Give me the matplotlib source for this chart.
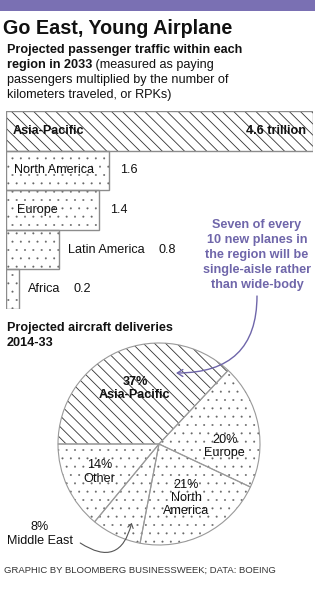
import numpy as np
import matplotlib
matplotlib.use("Agg")
import matplotlib.pyplot as plt
from matplotlib.patches import Rectangle

W, H = 315, 589

title = "Go East, Young Airplane"
sub_lines = [("Projected passenger traffic within each", ""),
             ("region in 2033", " (measured as paying"),
             ("", "passengers multiplied by the number of"),
             ("", "kilometers traveled, or RPKs)")]

regions = ["Asia-Pacific", "North America", "Europe", "Latin America", "Africa"]
rpk_trillions = [4.6, 1.55, 1.4, 0.8, 0.2]
rpk_labels = ["4.6 trillion", "1.6", "1.4", "0.8", "0.2"]

pie_heading = ["Projected aircraft deliveries", "2014-33"]
pie_regions = ["Asia-Pacific", "Europe", "North\nAmerica", "Middle East", "Other"]
deliveries_pct = [37, 20, 21, 8, 14]

note_lines = ["Seven of every", "10 new planes in", "the region will be",
              "single-aisle rather", "than wide-body"]
credit = "GRAPHIC BY BLOOMBERG BUSINESSWEEK; DATA: BOEING"

plt.rcParams['font.family'] = ['Liberation Sans', 'DejaVu Sans']
plt.rcParams['hatch.linewidth'] = 0.6

INK = '#111111'
PURPLE = '#6f66aa'
EDGE = '#8c8c8c'
FS = 9.1

fig = plt.figure(figsize=(W / 100, H / 100), dpi=100)
fig.patch.set_facecolor('white')


def put(px, py, s, **kw):
    kw.setdefault('color', INK)
    kw.setdefault('fontsize', FS)
    return fig.text(px / W, 1 - py / H, s, **kw)


def style_fill(patch, striped):
    # hatch colour follows the edge colour; the outline is drawn in a second pass
    if striped:
        patch.set_hatch('\\\\\\')
        patch.set_edgecolor('#333333')
    else:
        patch.set_hatch('..')
        patch.set_edgecolor('#666666')
        if hasattr(patch, 'set_hatch_linewidth'):
            patch.set_hatch_linewidth(0.2)


# purple band on top
fig.patches.append(Rectangle((0, 1 - 11 / H), 1, 11 / H, transform=fig.transFigure,
                             facecolor='#7a70b3', edgecolor='none'))

put(3, 33.5, title, fontsize=14.2, weight='bold', va='baseline')

# ---- bar chart ----
ax_bar = fig.add_axes([6 / W, 1 - 309 / H, 307 / W, 198 / H])
ax_bar.set_xlim(0, max(rpk_trillions))
ax_bar.set_ylim(len(regions) - 0.5, -0.5)
ax_bar.axis('off')

y = np.arange(len(regions))
fills = ax_bar.barh(y, rpk_trillions, height=1.0, color='white', linewidth=0)
for i, p in enumerate(fills):
    style_fill(p, i == 0)
ax_bar.barh(y, rpk_trillions, height=1.0, fill=False, edgecolor=EDGE, linewidth=1.0)

for i, (name, val, lab) in enumerate(zip(regions, rpk_trillions, rpk_labels)):
    if i == 0:
        ax_bar.annotate(name, (0, i), xytext=(7, 0), textcoords='offset pixels',
                        va='center', ha='left', fontsize=FS, weight='bold', color=INK)
        ax_bar.annotate(lab, (val, i), xytext=(-7, 0), textcoords='offset pixels',
                        va='center', ha='right', fontsize=FS, weight='bold', color=INK)
    elif val >= 1.0:
        ax_bar.annotate(name, (0, i), xytext=(8 if i == 1 else 11, 0), textcoords='offset pixels',
                        va='center', ha='left', fontsize=FS, color=INK)
        ax_bar.annotate(lab, (val, i), xytext=(11, 0), textcoords='offset pixels',
                        va='center', ha='left', fontsize=FS, color=INK)
    else:
        t = ax_bar.annotate(name, (val, i), xytext=(9, 0), textcoords='offset pixels',
                            va='center', ha='left', fontsize=FS, color=INK)
        ax_bar.annotate(lab, xy=(1, 0.5), xycoords=t, xytext=(13, 0),
                        textcoords='offset pixels', va='center', ha='left',
                        fontsize=FS, color=INK)

# subtitle with mixed weights
for k, (bold, rest) in enumerate(sub_lines):
    yb = 53.5 + 14.8 * k
    if bold:
        t = put(7, yb, bold, weight='bold', va='baseline')
        if rest:
            ax_bar.annotate(rest, xy=(1, 0), xycoords=t, xytext=(0, 0),
                            textcoords='offset pixels', va='bottom', ha='left',
                            fontsize=FS, color=INK, annotation_clip=False)
    else:
        put(7, yb, rest, va='baseline')

# ---- pie ----
R = 101
cx, cy = 159, 444
side = 2.2 * R
ax_pie = fig.add_axes([(cx - side / 2) / W, 1 - (cy + side / 2) / H, side / W, side / H])
wedges, _ = ax_pie.pie(deliveries_pct, startangle=180, counterclock=False,
                       wedgeprops=dict(facecolor='white', linewidth=0))
for i, w in enumerate(wedges):
    style_fill(w, i == 0)
ax_pie.pie(deliveries_pct, startangle=180, counterclock=False,
           wedgeprops=dict(fill=False, edgecolor='#999999', linewidth=0.8))
ax_pie.set_xlim(-1.1, 1.1)
ax_pie.set_ylim(-1.1, 1.1)
ax_pie.set_aspect('equal')
ax_pie.axis('off')

nudge = {1: -13}
for i, (w, name, pct) in enumerate(zip(wedges, pie_regions, deliveries_pct)):
    if name == "Middle East":
        continue
    mid = np.deg2rad((w.theta1 + w.theta2) / 2 + nudge.get(i, 0))
    r = 0.6 if i in (0, 2) else 0.65
    ax_pie.text(r * np.cos(mid), r * np.sin(mid), f"{pct}%\n{name}", ha='center', va='center',
                fontsize=FS, weight='bold' if i == 0 else 'normal', color=INK,
                linespacing=1.15)

me = pie_regions.index("Middle East")
ax_pie.text(-1.18, -0.89, f"{deliveries_pct[me]}%\nMiddle East", ha='center', va='center',
            fontsize=FS, color=INK, linespacing=1.15)
ax_pie.annotate('', xy=(-0.27, -0.78), xytext=(-0.78, -0.98),
                arrowprops=dict(arrowstyle='->,head_length=0.3,head_width=0.2', color='#555555',
                                lw=0.8, shrinkA=0, shrinkB=0,
                                connectionstyle='arc3,rad=0.7'),
                annotation_clip=False)

# purple note + arrow
for k, line in enumerate(note_lines):
    put(257, 225 + 15 * k, line, ha='center', va='center', weight='bold', color=PURPLE)
ax_pie.annotate('', xy=((176 - cx) / R, (cy - 373) / R), xycoords='data',
                xytext=(257 / W, 1 - 296 / H), textcoords='figure fraction',
                arrowprops=dict(arrowstyle='->,head_length=0.4,head_width=0.25', color=PURPLE,
                                lw=1.0, shrinkA=0, shrinkB=0,
                                connectionstyle='angle3,angleA=90,angleB=0'),
                annotation_clip=False)

for k, line in enumerate(pie_heading):
    put(7, 331.5 + 15 * k, line, weight='bold', va='baseline')

put(4, 570, credit, fontsize=6.8, va='center', color='#333333')

fig.savefig('out.png', dpi=100, facecolor='white')
